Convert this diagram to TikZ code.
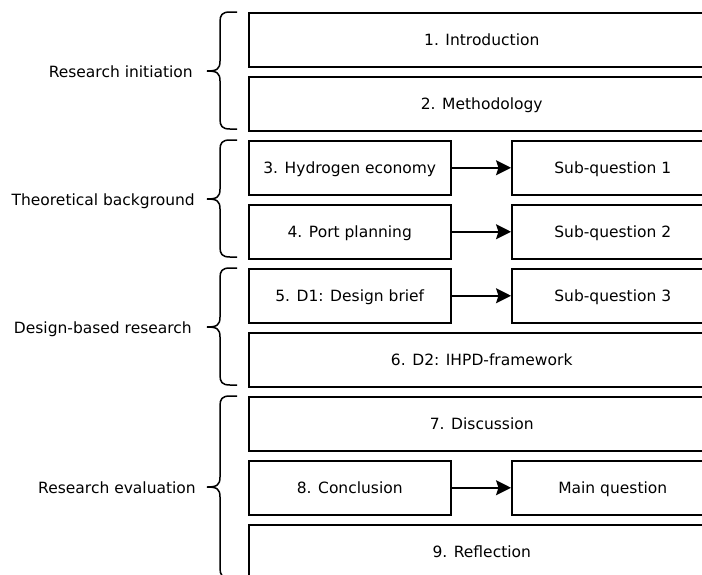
\documentclass[tikz,border=0pt]{standalone}
\usepackage{fontspec}
\setmainfont{DejaVu Sans}
\usetikzlibrary{arrows.meta}
\begin{document}
\begin{tikzpicture}[x=1pt,y=-1pt,
  every node/.style={font=\fontsize{15.5}{19}\selectfont, text=black},
  box/.style={draw=black, line width=1.5pt, anchor=north west, minimum height=54pt,
    inner sep=0pt, text height=13.5pt, text depth=1.5pt},
  widebox/.style={box, minimum width=466pt},
  halfbox/.style={box, minimum width=202pt},
  flow/.style={line width=1.5pt, -{Stealth[length=15pt,width=15pt,inset=2.5pt]}},
  bracestyle/.style={line width=1.5pt},
  grouplabel/.style={anchor=east, inner sep=0pt, text height=13.5pt, text depth=1.5pt}]
\clip (0,0) rectangle (702,574);
\fill[white] (0,0) rectangle (702,574);

% chapter boxes
\node[widebox] (b1) at (248,12)  {1. Introduction};
\node[widebox] (b2) at (248,76)  {2. Methodology};
\node[halfbox] (b3) at (248,140) {3. Hydrogen economy};
\node[halfbox] (q1) at (511,140) {Sub-question 1};
\node[halfbox] (b4) at (248,204) {4. Port planning};
\node[halfbox] (q2) at (511,204) {Sub-question 2};
\node[halfbox] (b5) at (248,268) {5. D1: Design brief};
\node[halfbox] (q3) at (511,268) {Sub-question 3};
\node[widebox] (b6) at (248,332) {6. D2: IHPD-framework};
\node[widebox] (b7) at (248,396) {7. Discussion};
\node[halfbox] (b8) at (248,460) {8. Conclusion};
\node[halfbox] (qm) at (511,460) {Main question};
\node[widebox] (b9) at (248,524) {9. Reflection};

% chapters answering the questions
\draw[flow] (b3.east) -- (q1.west);
\draw[flow] (b4.east) -- (q2.west);
\draw[flow] (b5.east) -- (q3.west);
\draw[flow] (b8.east) -- (qm.west);

% curly braces grouping the chapters
\newcommand{\groupbrace}[3]{%
  \draw[bracestyle] (237,#1) -- (230,#1)
    .. controls (222,#1) and (220,#1+3) .. (220,#1+10)
    -- (220,#3-10) .. controls (220,#3-2) and (217,#3) .. (207,#3)
    .. controls (217,#3) and (220,#3+2) .. (220,#3+10)
    -- (220,#2-10) .. controls (220,#2-3) and (222,#2) .. (230,#2)
    -- (237,#2);}
\groupbrace{12}{129}{71}
\groupbrace{140}{257}{199}
\groupbrace{268}{385}{327}
\groupbrace{396}{578}{487}

% group labels
\node[grouplabel] (g1) at (193,71)  {Research initiation};
\node[grouplabel] (g2) at (195,199) {Theoretical background};
\node[grouplabel] (g3) at (192,327) {Design-based research};
\node[grouplabel] (g4) at (196,487) {Research evaluation};
\end{tikzpicture}
\end{document}
